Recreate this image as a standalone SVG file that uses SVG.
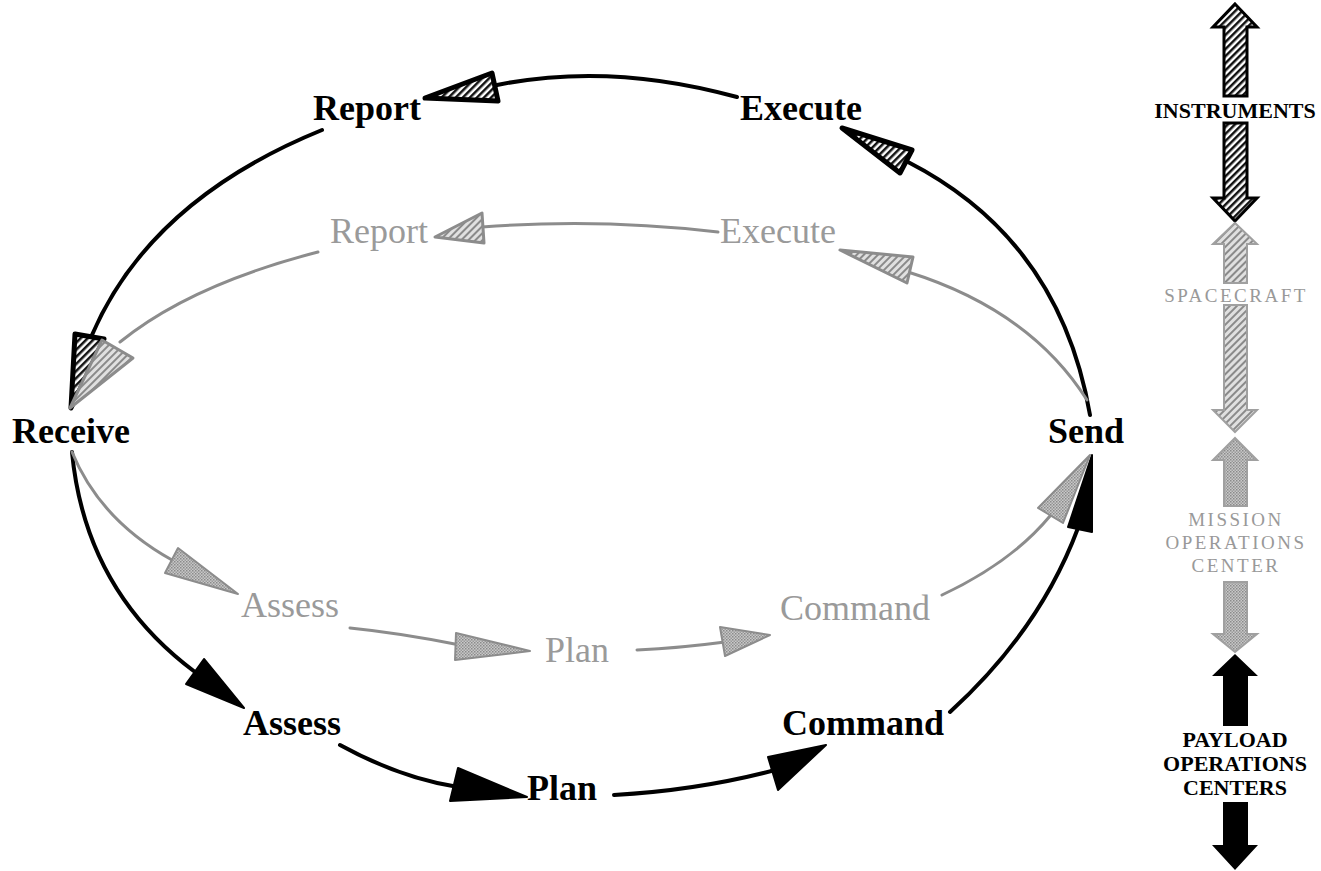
<svg xmlns="http://www.w3.org/2000/svg" width="1321" height="871" viewBox="0 0 1321 871">
<defs>
<pattern id="hatchB" width="5" height="5" patternUnits="userSpaceOnUse" patternTransform="rotate(45)"><rect width="5" height="5" fill="#fff"/><rect width="2.5" height="5" fill="#111"/></pattern>
<pattern id="hatchG" width="5" height="5" patternUnits="userSpaceOnUse" patternTransform="rotate(45)"><rect width="5" height="5" fill="#e0e0e0"/><rect width="2" height="5" fill="#8a8a8a"/></pattern>
<pattern id="dotG" width="3" height="3" patternUnits="userSpaceOnUse"><rect width="3" height="3" fill="#c8c8c8"/><rect width="1.5" height="1.5" fill="#8a8a8a"/><rect x="1.5" y="1.5" width="1.5" height="1.5" fill="#9a9a9a"/></pattern>
</defs>
<style>
.lb{font-family:"Liberation Serif","Times New Roman",serif;font-weight:bold;font-size:36px;fill:#000}
.lg{font-family:"Liberation Serif","Times New Roman",serif;font-size:36px;fill:#9a9a9a}
.rb{font-family:"Liberation Serif","Times New Roman",serif;font-weight:bold;font-size:22px;fill:#000;text-anchor:middle}
.rg{font-family:"Liberation Serif","Times New Roman",serif;font-size:19px;fill:#999;text-anchor:middle;letter-spacing:2.5px}
.ob{fill:none;stroke:#000;stroke-width:4;stroke-linecap:round}
.ig{fill:none;stroke:#8c8c8c;stroke-width:3;stroke-linecap:round}
.hb{fill:url(#hatchB);stroke:#000;stroke-width:5;stroke-linejoin:round}
.sb{fill:#000;stroke:#000;stroke-width:2;stroke-linejoin:round}
.hg{fill:url(#hatchG);stroke:#8c8c8c;stroke-width:3;stroke-linejoin:round}
.dg{fill:url(#dotG);stroke:#8c8c8c;stroke-width:2;stroke-linejoin:round}
.vb{fill:url(#hatchB);stroke:#000;stroke-width:3;stroke-linejoin:miter}
.vg{fill:url(#hatchG);stroke:#a0a0a0;stroke-width:2}
.vd{fill:url(#dotG);stroke:#a0a0a0;stroke-width:2}
.vs{fill:#000}
</style>
<rect width="1321" height="871" fill="#fff"/>
<g id="connectors">
<path class="ob" d="M 737 97 Q 610 62 497 85"/>
<polygon class="hb" points="425,98 492,73 498,101"/>
<path class="ob" d="M 322 130 Q 150 200 92 335"/>
<polygon class="hb" points="71,408 75,334 104,339"/>
<path class="ob" d="M 72 452 Q 85 590 195 672"/>
<polygon class="sb" points="244,708 204,659 186,684"/>
<path class="ob" d="M 340 745 Q 400 778 458 787"/>
<polygon class="sb" points="527,797 458,768 450,801"/>
<path class="ob" d="M 614 795 Q 700 790 775 770"/>
<polygon class="sb" points="826,745 768,757 778,790"/>
<path class="ob" d="M 950 712 Q 1040 630 1078 528"/>
<polygon class="sb" points="1092,455 1068,527 1092,532"/>
<path class="ob" d="M 1090 415 Q 1060 240 908 162"/>
<polygon class="hb" points="842,128 912,150 900,173"/>
<path class="ig" d="M 718 232 Q 600 218 482 227"/>
<polygon class="hg" points="435,237 482,213 484,243"/>
<path class="ig" d="M 318 252 Q 190 285 120 342"/>
<polygon class="hg" points="70,408 102,340 133,358"/>
<path class="ig" d="M 72 452 Q 100 520 172 560"/>
<polygon class="dg" points="238,594 178,548 165,573"/>
<path class="ig" d="M 350 628 Q 400 633 460 645"/>
<polygon class="dg" points="530,651 456,633 455,660"/>
<path class="ig" d="M 637 650 Q 680 648 725 642"/>
<polygon class="dg" points="770,635 720,627 725,656"/>
<path class="ig" d="M 942 595 Q 1012 562 1050 516"/>
<polygon class="dg" points="1090,455 1038,508 1063,523"/>
<path class="ig" d="M 1087 400 Q 1030 310 908 272"/>
<polygon class="hg" points="840,250 913,257 907,283"/>
</g>
<g id="node-report"><text class="lb" x="313" y="120">Report</text></g>
<g id="node-execute"><text class="lb" x="740" y="120">Execute</text></g>
<g id="node-receive"><text class="lb" x="12" y="443">Receive</text></g>
<g id="node-send"><text class="lb" x="1048" y="443">Send</text></g>
<g id="node-assess"><text class="lb" x="243" y="735">Assess</text></g>
<g id="node-plan"><text class="lb" x="527" y="800">Plan</text></g>
<g id="node-command"><text class="lb" x="782" y="735">Command</text></g>
<g id="node-report-inner"><text class="lg" x="330" y="243">Report</text></g>
<g id="node-execute-inner"><text class="lg" x="720" y="243">Execute</text></g>
<g id="node-assess-inner"><text class="lg" x="241" y="617">Assess</text></g>
<g id="node-plan-inner"><text class="lg" x="545" y="662">Plan</text></g>
<g id="node-command-inner"><text class="lg" x="780" y="620">Command</text></g>
<g id="scale-instruments">
<polygon class="vb" points="1235,4 1257,27 1247,27 1247,96 1224,96 1224,27 1213,27"/>
<polygon class="vb" points="1235,221 1257,198 1247,198 1247,123 1224,123 1224,198 1213,198"/>
<text class="rb" x="1235" y="118">INSTRUMENTS</text>
</g>
<g id="scale-spacecraft">
<polygon class="vg" points="1235,223 1257,244 1247,244 1247,283 1224,283 1224,244 1213,244"/>
<polygon class="vg" points="1235,432 1257,410 1247,410 1247,305 1224,305 1224,410 1213,410"/>
<text class="rg" x="1236" y="302">SPACECRAFT</text>
</g>
<g id="scale-mission">
<polygon class="vd" points="1235,438 1257,460 1247,460 1247,506 1224,506 1224,460 1213,460"/>
<polygon class="vd" points="1235,652 1257,634 1247,634 1247,582 1224,582 1224,634 1213,634"/>
<text class="rg" x="1236" y="526">MISSION</text>
<text class="rg" x="1236" y="549">OPERATIONS</text>
<text class="rg" x="1236" y="572">CENTER</text>
</g>
<g id="scale-payload">
<polygon class="vs" points="1235,654 1258,676 1248,676 1248,726 1223,726 1223,676 1212,676"/>
<polygon class="vs" points="1235,870 1258,845 1248,845 1248,802 1223,802 1223,845 1212,845"/>
<text class="rb" x="1235" y="747">PAYLOAD</text>
<text class="rb" x="1235" y="771">OPERATIONS</text>
<text class="rb" x="1235" y="795">CENTERS</text>
</g>
</svg>
